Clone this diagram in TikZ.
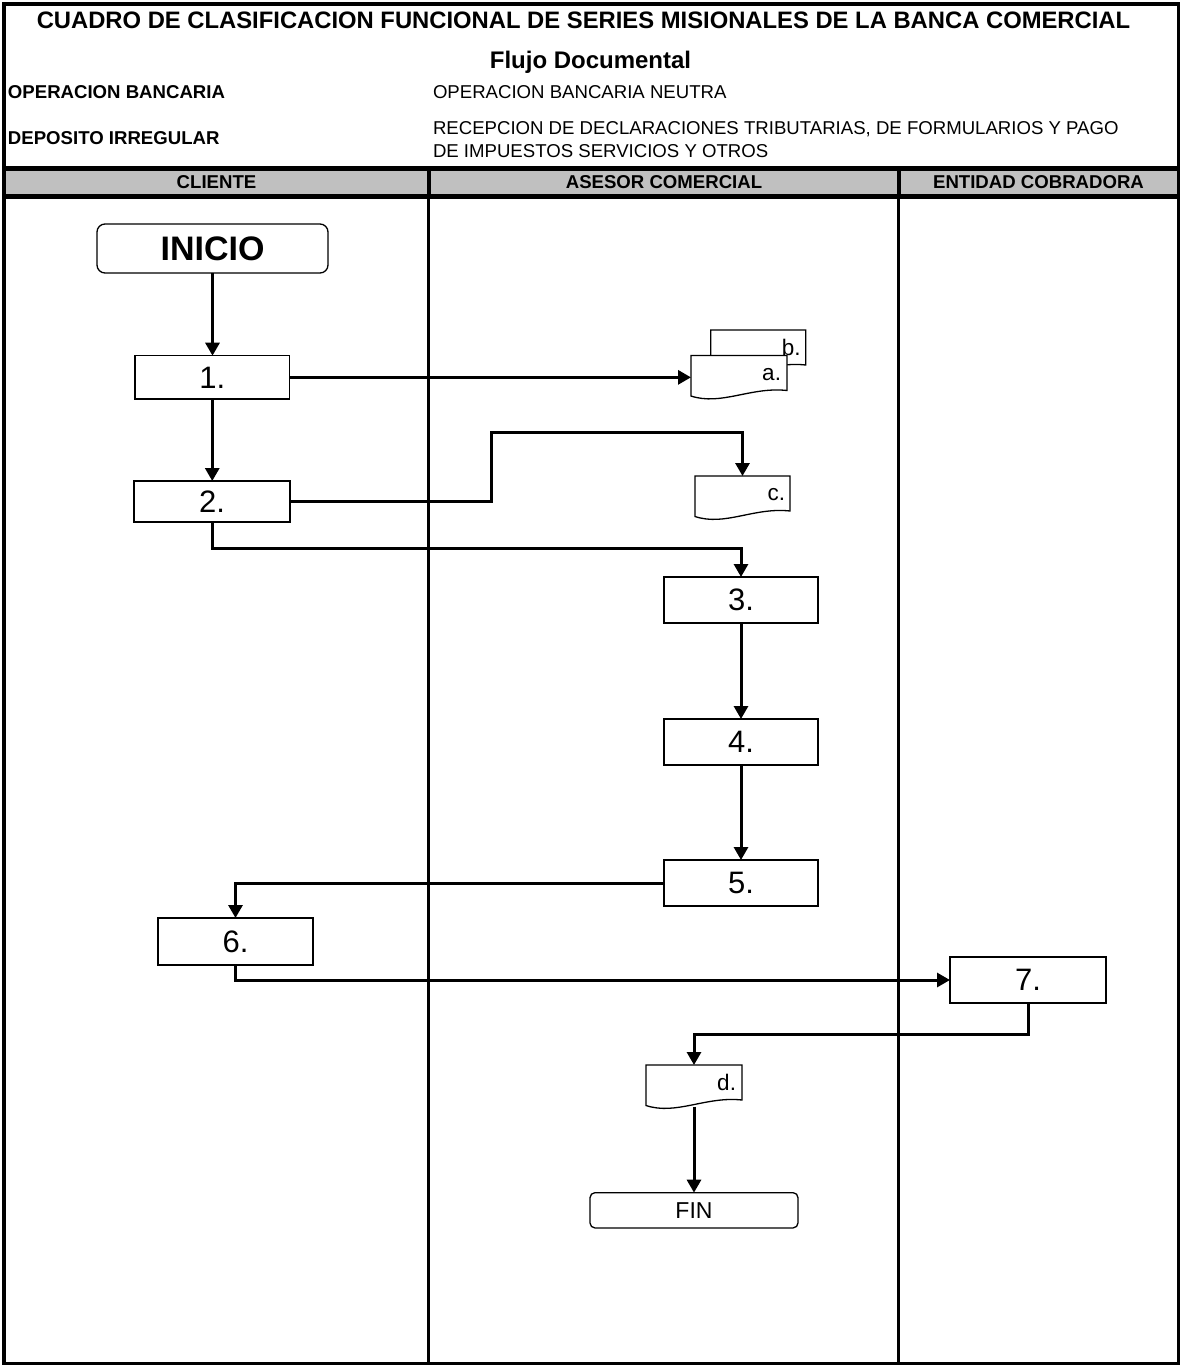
\documentclass[tikz,border=0pt]{standalone}
\usepackage{fontspec}
\setmainfont{Liberation Sans}
\usetikzlibrary{arrows.meta}
\definecolor{lanegray}{RGB}{192,192,192}
\begin{document}
\begin{tikzpicture}[x=1pt,y=-1pt,
  every node/.style={inner sep=0pt,outer sep=0pt},
  titlefont/.style={font=\fontsize{23.8}{28}\selectfont\bfseries},
  subfont/.style={font=\fontsize{24}{28}\selectfont\bfseries},
  hdrB/.style={font=\fontsize{18.6}{22}\selectfont\bfseries},
  hdrR/.style={font=\fontsize{18.6}{22}\selectfont},
  procbox/.style={draw,fill=white,line width=1.3pt,
     font=\fontsize{31}{36}\selectfont},
  termbox/.style={draw,fill=white,line width=1.3pt,rounded corners=#1},
  docnode/.style={minimum width=96pt,minimum height=40.5pt},
  docline/.style={draw,fill=white,line width=1.3pt},
  doclabel/.style={font=\fontsize{22.5}{26}\selectfont,anchor=base east},
  flow/.style={line width=3pt,-{Triangle[length=13pt,width=14pt]}},
  frame/.style={line width=3.5pt},
  lanediv/.style={line width=2.3pt}
]
\useasboundingbox (0,0) rectangle (1180,1365);
% header band and frame
\fill[lanegray] (4,171) rectangle (1178,193.5);
\draw[line width=5pt] (4,168.5) -- (1178,168.5);
\draw[line width=5pt] (4,196) -- (1178,196);
\draw[line width=4pt] (429,166) -- (429,198);
\draw[line width=4pt] (899,166) -- (899,198);
\draw[lanediv] (428.5,198) -- (428.5,1363);
\draw[lanediv] (898.4,198) -- (898.4,1363);
\draw[frame] (4,4) rectangle (1178.5,1363.5);
\draw[line width=4pt] (4,2) -- (4,168);
\draw[line width=4pt] (2,4) -- (1178,4);

% header texts
\node[titlefont,anchor=base] (title) at (583.5,28.5) {CUADRO DE CLASIFICACION FUNCIONAL DE SERIES MISIONALES DE LA BANCA COMERCIAL};
\node[subfont,anchor=base] (sub) at (590.5,68) {Flujo Documental};
\node[hdrB,anchor=base west] (opb) at (8,98.7) {OPERACION BANCARIA};
\node[hdrR,anchor=base west] (opn) at (433,98.7) {OPERACION BANCARIA NEUTRA};
\node[hdrB,anchor=base west] (dep) at (8,144.7) {DEPOSITO IRREGULAR};
\node[hdrR,anchor=base west] (rec1) at (433,134.7) {RECEPCION DE DECLARACIONES TRIBUTARIAS, DE FORMULARIOS Y PAGO};
\node[hdrR,anchor=base west] (rec2) at (433,157.7) {DE IMPUESTOS SERVICIOS Y OTROS};
\node[hdrB,anchor=base] (l1) at (216.5,188.7) {CLIENTE};
\node[hdrB,anchor=base] (l2) at (664,188.7) {ASESOR COMERCIAL};
\node[hdrB,anchor=base] (l3) at (1038.5,188.7) {ENTIDAD COBRADORA};

% terminals
\node[termbox=8pt,minimum width=231pt,minimum height=49pt,
      font=\fontsize{34}{40}\selectfont\bfseries] (inicio) at (212.5,248.5) {INICIO};
\node[termbox=5pt,minimum width=208pt,minimum height=35.3pt,
      font=\fontsize{23}{28}\selectfont] (fin) at (694,1210.3) {FIN};

% process boxes
\node[procbox,minimum width=154.5pt,minimum height=43.3pt] (b1) at (212.25,377.35) {1.};
\node[procbox,minimum width=156pt,minimum height=41pt] (b2) at (212,501.5) {2.};
\node[procbox,minimum width=154pt,minimum height=46pt] (b3) at (741,600) {3.};
\node[procbox,minimum width=154pt,minimum height=46pt] (b4) at (741,742) {4.};
\node[procbox,minimum width=154pt,minimum height=46pt] (b5) at (741,883) {5.};
\node[procbox,minimum width=155pt,minimum height=47pt] (b6) at (235.5,941.5) {6.};
\node[procbox,minimum width=156pt,minimum height=46pt] (b7) at (1028,980) {7.};

% documents
\node[docnode,minimum width=95pt] (db) at (758.2,350.25) {};
\node[docnode] (da) at (739,375.75) {};
\node[docnode,minimum width=95pt] (dc) at (742.5,496.25) {};
\node[docnode] (dd) at (694,1085.25) {};
\foreach \d in {db,da,dc,dd}{
  \draw[docline] (\d.south west) -- (\d.north west) -- (\d.north east)
     -- ([yshift=5.5pt]\d.south east) .. controls +(-36,-4) and +(30,10) .. (\d.south west) -- cycle;
}
\node[doclabel] (lb) at ([xshift=-5pt,yshift=-25pt]db.north east) {b.};
\node[doclabel] (la) at ([xshift=-6pt,yshift=-25pt]da.north east) {a.};
\node[doclabel] (lc) at ([xshift=-5pt,yshift=-24pt]dc.north east) {c.};
\node[doclabel] (ld) at ([xshift=-6pt,yshift=-25pt]dd.north east) {d.};

% connectors
\coordinate (k1) at (491,432);
\coordinate (k2) at (500,548);
\coordinate (k3) at (900,1034);
\draw[flow] (inicio.south) -- (inicio.south |- b1.north);
\draw[flow] (b1.south) -- (b1.south |- b2.north);
\draw[flow] (b1.east) -- (b1.east -| da.west);
\draw[flow] (b2.east) -| (k1) -| (dc.north);
\draw[flow] (b2.south) |- (k2) -| (b3.north);
\draw[flow] (b3.south) -- (b4.north);
\draw[flow] (b4.south) -- (b5.north);
\draw[flow] (b5.west) -| (b6.north);
\draw[flow] (b6.south) |- (b7.west);
\draw[flow] (b7.south) |- (k3) -| (dd.north);
\draw[flow] ([yshift=-1pt]dd.south) -- (fin.north);
\end{tikzpicture}
\end{document}
